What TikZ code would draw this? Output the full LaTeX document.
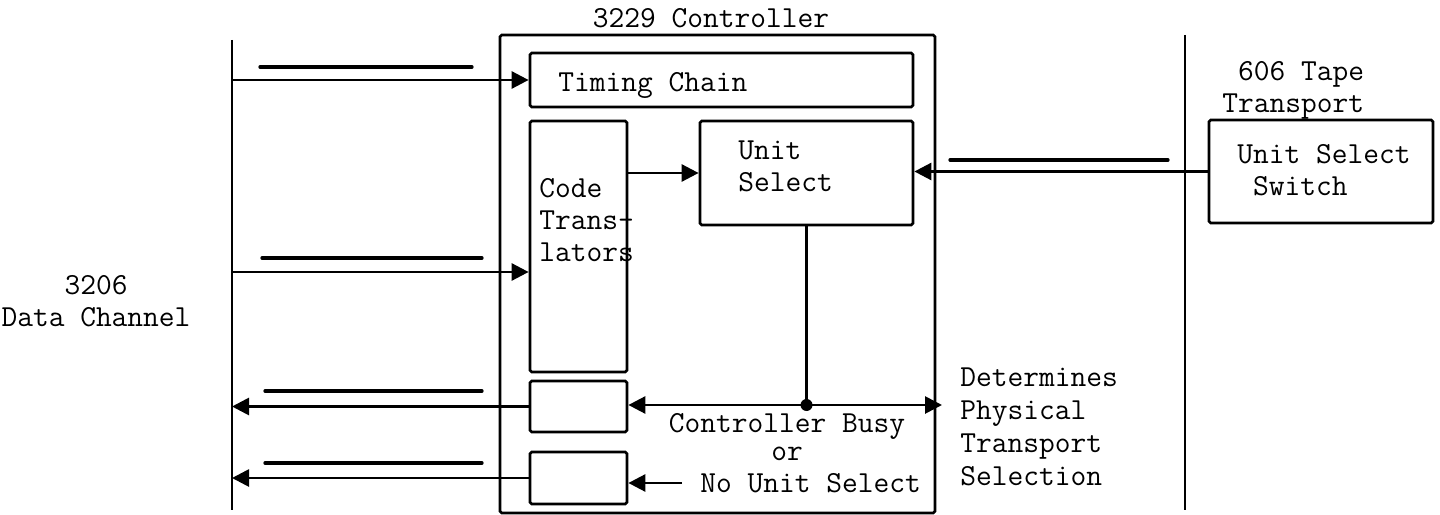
\documentclass[tikz,border=0pt]{standalone}
\usepackage{fontspec}
\usepackage{tikz}
\usetikzlibrary{arrows.meta,positioning,calc}
\tikzset{
  % plain boxes of the controller and the transport
  blk/.style  = {rectangle, draw, line width=0.55mm, rounded corners=1pt, inner sep=0pt},
  txt/.style  = {inner sep=0pt, font=\ttfamily\fontsize{17.4}{18.2}\selectfont},
  lane/.style = {-{Triangle[length=3.4mm,width=3.4mm]}, line width=0.55mm},
  bus/.style  = {line width=0.55mm},
  bar/.style  = {line width=0.65mm, line cap=round},
}

\begin{document}
\begin{tikzpicture}[x=0.2mm,y=-0.2mm]
\useasboundingbox (0,0) rectangle (1440,515);
% channel and transport lines
\draw[bus] (232,40) coordinate (chT) -- (232,510) coordinate (chB);
\draw[bus] (1185,35) coordinate (trT) -- (1185,510) coordinate (trB);
% controller
\node[blk, minimum width=8.7cm, minimum height=9.56cm] (ctrl) at (717.5,274) {};
\node[txt] (title) at (711,18) {3229 Controller};
\node[blk, minimum width=7.66cm, minimum height=1.08cm] (timing) at (721.5,80) {};
\node[txt, anchor=west] (timingtxt) at (558,85) {Timing Chain};
\node[blk, minimum width=1.94cm, minimum height=5.02cm] (code) at (578.5,246.5) {};
\node[txt, anchor=north west, align=left] (codetxt) at (539,178) {Code\\Trans-\\lators};
\node[blk, minimum width=4.26cm, minimum height=2.08cm] (unit) at (806.5,173) {};
\node[txt, anchor=north west, align=left] (unittxt) at (738,140) {Unit\\Select};
\node[blk, minimum width=1.94cm, minimum height=1.02cm] (latchA) at (578.5,406.5) {};
\node[blk, minimum width=1.94cm, minimum height=1.04cm] (latchB) at (578.5,478) {};
% transport
\node[txt, anchor=north west, align=left] (tapetxt) at (1222,61) {\hphantom{T}606 Tape\\Transport};
\node[blk, minimum width=4.48cm, minimum height=2.06cm] (uss) at (1321,171.5) {};
\node[txt, anchor=north west, align=left] (usstxt) at (1237,144) {Unit Select\\\hphantom{U}Switch};
% channel
\node[txt, align=center] (chtxt) at (96,301) {3206\\Data Channel};
% notes
\node[txt, anchor=north west, align=left, font=\ttfamily\fontsize{17.4}{18.8}\selectfont] (physical) at (960,367)
  {Determines\\Physical\\Transport\\Selection};
\node[txt, align=center, font=\ttfamily\fontsize{17.4}{16}\selectfont] (busy) at (787,437) {Controller Busy\\or};
\node[txt, anchor=west] (nous) at (700,483) {No Unit Select};
% signals
\coordinate (in2) at (232,272);
\coordinate (jn) at (806.5,405);
\coordinate (phys) at (942,405);
\draw[lane] (chT |- timing.west) -- (timing.west);
\draw[lane] (in2) -- (in2 -| code.west);
\draw[lane] (code.east |- unit.west) -- (unit.west);
\draw[lane] (uss.west) -- (uss.west -| unit.east);
\draw[bus] (unit.south) -- (jn);
\draw[lane] (jn) -- (jn -| latchA.east);
\draw[lane] (jn) -- (phys);
\fill (jn) circle (1.2mm);
\draw[lane] (latchA.west) -- (latchA.west -| chT);
\draw[lane, shorten <=3.6mm] (nous.west) -- (nous.west -| latchB.east);
\draw[lane] (latchB.west) -- (latchB.west -| chT);
% negation bars
\draw[bar] (260,67) -- (472,67);
\draw[bar] (262,258) -- (482,258);
\draw[bar] (265,391) -- (482,391);
\draw[bar] (265,463) -- (482,463);
\draw[bar] (950,160) -- (1168,160);
\end{tikzpicture}
\end{document}
